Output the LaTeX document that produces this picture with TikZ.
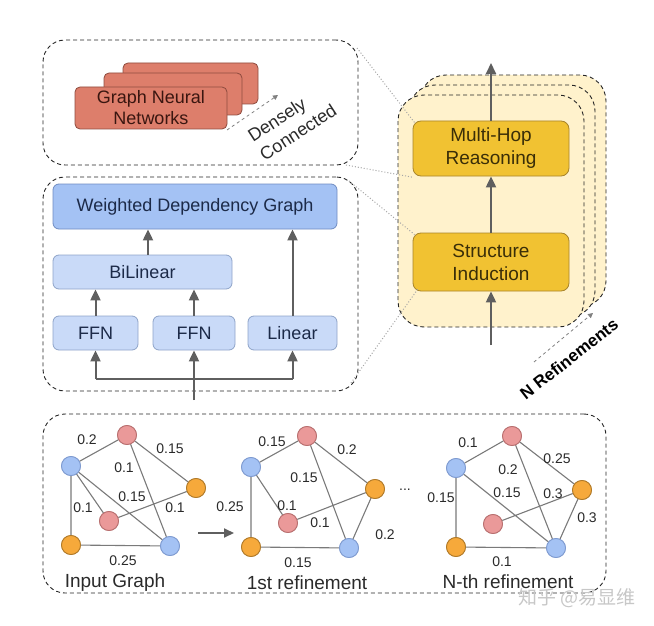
\documentclass[tikz,border=0pt]{standalone}
\usepackage{fontspec}
\setmainfont{Liberation Sans}
\newfontfamily\cjkfont{Noto Sans CJK SC}
\usetikzlibrary{arrows.meta,calc}
\definecolor{gnnfill}{HTML}{DD7E6B}
\definecolor{gnndraw}{HTML}{8E4B3E}
\definecolor{gnntext}{HTML}{3A1610}
\definecolor{wdgfill}{HTML}{A4C2F4}
\definecolor{wdgdraw}{HTML}{6F8CC2}
\definecolor{lbfill}{HTML}{C9DAF8}
\definecolor{lbdraw}{HTML}{8EA3C8}
\definecolor{bluetext}{HTML}{1C2A48}
\definecolor{panelfill}{HTML}{FFF2CC}
\definecolor{yelfill}{HTML}{F1C232}
\definecolor{yeldraw}{HTML}{A8842A}
\definecolor{yeltext}{HTML}{3A2E08}
\definecolor{flowgray}{HTML}{5F5F5F}
\definecolor{edgegray}{HTML}{7A7A7A}
\definecolor{nblue}{HTML}{A4C2F4}
\definecolor{nbluedraw}{HTML}{7F9BD0}
\definecolor{npink}{HTML}{EA9999}
\definecolor{npinkdraw}{HTML}{B87070}
\definecolor{norange}{HTML}{F6A93B}
\definecolor{norangedraw}{HTML}{B07A2A}
\definecolor{labtext}{HTML}{2A2A2A}
\begin{document}
\begin{tikzpicture}[x=1pt,y=-1pt,
  panel/.style={draw=black!85, dash pattern=on 4pt off 3pt, rounded corners=22pt, line width=0.9pt, inner sep=0},
  ypanel/.style={panel, fill=panelfill, rounded corners=26pt},
  gnnbox/.style={draw=gnndraw, fill=gnnfill, rounded corners=5pt, line width=0.8pt, inner sep=0, text=gnntext, font=\fontsize{18}{21}\selectfont, align=center},
  wdgbox/.style={draw=wdgdraw, fill=wdgfill, rounded corners=6pt, line width=0.8pt, inner sep=0, text=bluetext, font=\fontsize{18}{21}\selectfont},
  lbbox/.style={draw=lbdraw, fill=lbfill, rounded corners=6pt, line width=0.8pt, inner sep=0, text=bluetext, font=\fontsize{18}{21}\selectfont},
  yelbox/.style={draw=yeldraw, fill=yelfill, rounded corners=8pt, line width=0.8pt, inner sep=0, text=yeltext, font=\fontsize{19}{23}\selectfont, align=center},
  flow/.style={draw=flowgray, line width=2pt, -{Triangle[width=10pt,length=11pt]}},
  plainflow/.style={draw=flowgray, line width=2pt},
  zoomline/.style={draw=gray!70, dotted, line width=1pt},
  hintarrow/.style={draw=gray, dashed, line width=0.8pt, -{Triangle[width=5pt,length=5pt]}},
  gnode/.style={circle, minimum size=19pt, inner sep=0, line width=0.8pt},
  bn/.style={gnode, fill=nblue, draw=nbluedraw},
  pn/.style={gnode, fill=npink, draw=npinkdraw},
  on/.style={gnode, fill=norange, draw=norangedraw},
  gedge/.style={draw=edgegray, line width=1.1pt},
  wlab/.style={font=\fontsize{14}{16}\selectfont, text=labtext, inner sep=0},
  caption/.style={font=\fontsize{19}{22}\selectfont, text=labtext, inner sep=0},
  rotlab/.style={font=\fontsize{18}{22}\selectfont, text=labtext, inner sep=0}
]
\useasboundingbox (0,0) rectangle (654,626);

% ---------- panels ----------
\node[panel, minimum width=315pt, minimum height=125pt] (toppanel) at (200.5,102.5) {};
\node[panel, minimum width=315pt, minimum height=214pt] (midpanel) at (200.5,284) {};
\node[panel, minimum width=563pt, minimum height=179pt] (botpanel) at (324.5,503.5) {};

% yellow stacked panels
\node[ypanel, minimum width=186pt, minimum height=232pt] (yback) at (513,191) {};
\node[ypanel, minimum width=186pt, minimum height=232pt] (ymid) at (502,201) {};
\node[ypanel, minimum width=186pt, minimum height=232pt] (yfront) at (491,211) {};

% ---------- GNN stack ----------
\node[gnnbox, minimum width=135pt, minimum height=41pt] (gnnA) at (190.5,83.5) {};
\node[gnnbox, minimum width=138pt, minimum height=42pt] (gnnB) at (173,94) {};
\node[gnnbox, minimum width=152pt, minimum height=42pt] (gnnC) at (151,108) {Graph Neural\\Networks};
\coordinate (dc1) at (227,130);
\coordinate (dc2) at (278,95);
\draw[hintarrow] (dc1) -- (dc2);
\node[rotlab, rotate=33, align=left] (denstext) at (292,123) {Densely\\Connected};

% ---------- dependency graph block ----------
\node[wdgbox, minimum width=284pt, minimum height=45pt] (wdg) at (195,206.5) {Weighted Dependency Graph};
\node[lbbox, minimum width=179pt, minimum height=34pt] (bil) at (142.5,272) {BiLinear};
\node[lbbox, minimum width=85pt, minimum height=34pt] (ffn1) at (95.5,333) {FFN};
\node[lbbox, minimum width=82pt, minimum height=34pt] (ffn2) at (194,333) {FFN};
\node[lbbox, minimum width=89pt, minimum height=34pt] (lin) at (292.5,333) {Linear};

\draw[flow] ([xshift=5.5pt]bil.north) -- ([xshift=5.5pt]bil.north |- wdg.south);
\draw[flow] (ffn1.north) -- (ffn1.north |- bil.south);
\draw[flow] (ffn2.north) -- (ffn2.north |- bil.south);
\draw[flow] (lin.north) -- (lin.north |- wdg.south);
\coordinate (inp) at (194,400);
\coordinate (split) at (194,379);
\draw[plainflow] (inp) -- (split);
\draw[plainflow] (ffn1.south |- split) -- (lin.south |- split);
\draw[flow] (ffn1.south |- split) -- (ffn1.south);
\draw[flow] (split) -- (ffn2.south);
\draw[flow] (lin.south |- split) -- (lin.south);

% ---------- zoom lines ----------
\coordinate (zt1) at (357,48);
\coordinate (zt2) at (346,165);
\coordinate (zm1) at (349,181);
\coordinate (zm2) at (351,383);

% ---------- right column ----------
\node[yelbox, minimum width=156pt, minimum height=55pt] (mhr) at (491,148.5) {Multi-Hop\\Reasoning};
\node[yelbox, minimum width=156pt, minimum height=58pt] (si) at (491,262) {Structure\\Induction};
\draw[zoomline] (zt1) -- ([shift={(2pt,-2pt)}]mhr.north west);
\draw[zoomline] (zt2) -- ([shift={(1pt,-1pt)}]mhr.south west);
\draw[zoomline] (zm1) -- ([shift={(2pt,-2pt)}]si.north west);
\draw[zoomline] (zm2) -- ([shift={(5pt,2pt)}]si.south west);
\coordinate (rin) at (491,345);
\coordinate (rout) at (491,63);
\draw[flow] (rin) -- (si.south);
\draw[flow] (si.north) -- (mhr.south);
\draw[flow] (mhr.north) -- (rout);
\coordinate (nr1) at (534,362);
\coordinate (nr2) at (593,313);
\draw[hintarrow] (nr1) -- (nr2);
\node[font=\bfseries\fontsize{17}{20}\selectfont, text=black, rotate=38, inner sep=0] (nref) at (569,359) {N Refinements};

% ---------- graph 1 ----------
\node[pn] (a1) at (127,435) {};
\node[bn] (b1) at (71,466) {};
\node[on] (c1) at (196,488) {};
\node[pn] (d1) at (109,521) {};
\node[on] (e1) at (71,545) {};
\node[bn] (f1) at (170,546) {};
\draw[gedge] (b1) -- (a1) (a1) -- (c1) (a1) -- (f1) (b1) -- (d1) (b1) -- (f1) (d1) -- (c1) (b1) -- (e1) (e1) -- (f1);
\node[pn] at (a1) {}; \node[bn] at (b1) {}; \node[on] at (c1) {};
\node[pn] at (d1) {}; \node[on] at (e1) {}; \node[bn] at (f1) {};
\node[wlab] (l11) at (87,440) {0.2};
\node[wlab] (l12) at (170,449) {0.15};
\node[wlab] (l13) at (124,468) {0.1};
\node[wlab] (l14) at (83,508) {0.1};
\node[wlab] (l15) at (132,497) {0.15};
\node[wlab] (l16) at (175,508) {0.1};
\node[wlab] (l17) at (123,561) {0.25};
\node[caption] (cap1) at (115,583) {Input Graph};

\coordinate (ga1) at (198,533);
\coordinate (ga2) at (234,533);
\draw[flow, -{Triangle[width=9pt,length=10pt]}] (ga1) -- (ga2);

% ---------- graph 2 ----------
\node[pn] (a2) at (307,436) {};
\node[bn] (b2) at (251,467) {};
\node[on] (c2) at (375,489) {};
\node[pn] (d2) at (288,523) {};
\node[on] (e2) at (251,547) {};
\node[bn] (f2) at (349,548) {};
\draw[gedge] (b2) -- (a2) (a2) -- (c2) (a2) -- (f2) (b2) -- (d2) (d2) -- (c2) (c2) -- (f2) (b2) -- (e2) (e2) -- (f2);
\node[pn] at (a2) {}; \node[bn] at (b2) {}; \node[on] at (c2) {};
\node[pn] at (d2) {}; \node[on] at (e2) {}; \node[bn] at (f2) {};
\node[wlab] (l21) at (272,442) {0.15};
\node[wlab] (l22) at (347,450) {0.2};
\node[wlab] (l23) at (304,478) {0.15};
\node[wlab] (l24) at (287,506) {0.1};
\node[wlab] (l25) at (320,523) {0.1};
\node[wlab] (l26) at (385,535) {0.2};
\node[wlab] (l27) at (230,507) {0.25};
\node[wlab] (l28) at (298,563) {0.15};
\node[caption] (cap2) at (307,583) {1st refinement};
\node[wlab] (dots) at (405,490) {...};

% ---------- graph 3 ----------
\node[pn] (a3) at (512,436) {};
\node[bn] (b3) at (456,468) {};
\node[on] (c3) at (582,490) {};
\node[pn] (d3) at (493,524) {};
\node[on] (e3) at (456,547) {};
\node[bn] (f3) at (556,548) {};
\draw[gedge] (b3) -- (a3) (a3) -- (c3) (a3) -- (f3) (b3) -- (f3) (d3) -- (c3) (c3) -- (f3) (b3) -- (e3) (e3) -- (f3);
\node[pn] at (a3) {}; \node[bn] at (b3) {}; \node[on] at (c3) {};
\node[pn] at (d3) {}; \node[on] at (e3) {}; \node[bn] at (f3) {};
\node[wlab] (l31) at (468,443) {0.1};
\node[wlab] (l32) at (557,459) {0.25};
\node[wlab] (l33) at (508,470) {0.2};
\node[wlab] (l34) at (507,493) {0.15};
\node[wlab] (l35) at (553,494) {0.3};
\node[wlab] (l36) at (587,518) {0.3};
\node[wlab] (l37) at (441,498) {0.15};
\node[wlab] (l38) at (502,562) {0.1};
\node[caption] (cap3) at (508,582) {N-th refinement};

% watermark
\node[font=\cjkfont\fontsize{19}{22}\selectfont, text=black!22, inner sep=0] (wm) at (577,598) {知乎 @易显维};
\end{tikzpicture}
\end{document}
